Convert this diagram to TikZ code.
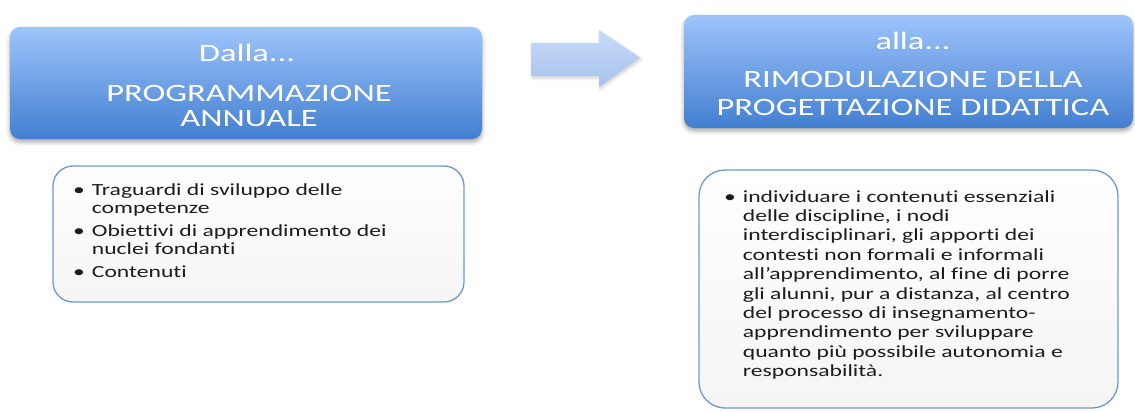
\documentclass[tikz,border=0pt]{standalone}
\usepackage{fontspec}
\usepackage{graphicx}
\setmainfont{Carlito}[Ligatures={NoCommon,NoContextual}]
\usetikzlibrary{shadows.blur}
\definecolor{ttop}{HTML}{9EC4FB}
\definecolor{tbot}{HTML}{427FD0}
\definecolor{atop}{HTML}{C9DCF8}
\definecolor{abot}{HTML}{A6C1EC}
\definecolor{lborder}{HTML}{6C98D3}
\definecolor{ltxt}{HTML}{1C1C1C}
\newcommand\wideT[1]{\scalebox{1.38}[1]{#1}}
\newcommand\wideL[1]{\scalebox{1.39}[1]{#1}}
\begin{document}
\begin{tikzpicture}[x=1pt,y=-1pt,
  tbox/.style={draw=none, rounded corners=10pt, top color=ttop, bottom color=tbot,
    inner sep=0pt, blur shadow={shadow xshift=0pt, shadow yshift=-3pt, shadow blur radius=4pt, shadow opacity=35}},
  lbox/.style={draw=lborder, line width=1.3pt, top color=white, bottom color=black!4,
    inner sep=0pt},
  ttl/.style={text=white, font=\fontsize{25}{26}\selectfont, anchor=base, inner sep=0pt},
  lst/.style={text=ltxt, font=\fontsize{17}{18.6}\selectfont, anchor=base west, inner sep=0pt},
  lst2/.style={lst, font=\fontsize{17}{19.4}\selectfont}
]
\useasboundingbox (0,0) rectangle (1135,412);
% title boxes
\node[tbox, minimum width=472pt, minimum height=112pt] (b1) at (246,83) {};
\node[tbox, minimum width=449pt, minimum height=113pt] (b2) at (908.5,71.5) {};
% titles
\node[ttl] (t1a) at (247,62) {\wideT{Dalla...}};
\node[ttl] (t1b) at (249,101) {\wideT{PROGRAMMAZIONE}};
\node[ttl] (t1c) at (249,126) {\wideT{ANNUALE}};
\node[ttl] (t2a) at (913,50) {\wideT{alla...}};
\node[ttl] (t2b) at (913,87) {\wideT{RIMODULAZIONE DELLA}};
\node[ttl] (t2c) at (913,115) {\wideT{PROGETTAZIONE DIDATTICA}};
% arrow
\path[top color=atop, bottom color=abot, blur shadow={shadow xshift=1pt, shadow yshift=-2pt, shadow blur radius=3pt, shadow opacity=20}]
  (531,43) -- (599,43) -- (599,30) -- (640,57.5) -- (599,87) -- (599,76) -- (531,76) -- cycle;
% lower boxes
\node[lbox, rounded corners=20pt, minimum width=411pt, minimum height=136pt] (l1) at (258.5,234) {};
\node[lbox, rounded corners=26pt, minimum width=419pt, minimum height=238pt] (l2) at (908.5,289) {};
% lists
\node[lst] (list1) at (73,195) {\wideL{\begin{tabular}[t]{@{}l@{\hspace{5pt}}l@{}}
\textbullet & Traguardi di sviluppo delle\\
 & competenze\\[4pt]
\textbullet & Obiettivi di apprendimento dei\\
 & nuclei fondanti\\[4pt]
\textbullet & Contenuti
\end{tabular}}};
\node[lst2] (list2) at (724,202) {\wideL{\begin{tabular}[t]{@{}l@{\hspace{5pt}}l@{}}
\textbullet & individuare i contenuti essenziali\\
 & delle discipline, i nodi\\
 & interdisciplinari, gli apporti dei\\
 & contesti non formali e informali\\
 & all’apprendimento, al fine di porre\\
 & gli alunni, pur a distanza, al centro\\
 & del processo di insegnamento-\\
 & apprendimento per sviluppare\\
 & quanto più possibile autonomia e\\
 & responsabilità.
\end{tabular}}};
\end{tikzpicture}
\end{document}
